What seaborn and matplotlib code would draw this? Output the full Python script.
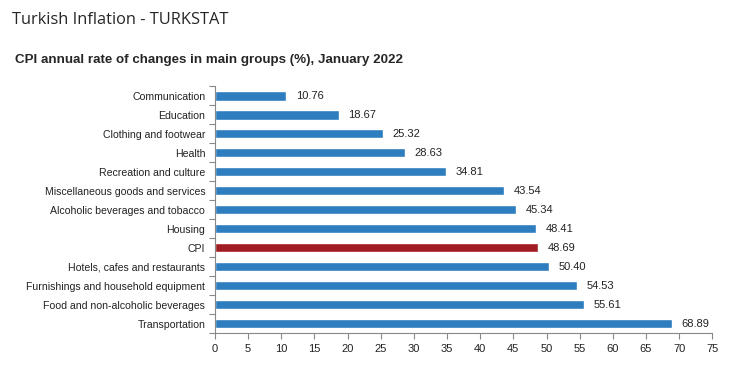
import numpy as np
import pandas as pd
import seaborn as sns
import matplotlib.pyplot as plt
from matplotlib.ticker import FixedLocator

categories = ["Communication", "Education", "Clothing and footwear", "Health",
              "Recreation and culture", "Miscellaneous goods and services",
              "Alcoholic beverages and tobacco", "Housing", "CPI",
              "Hotels, cafes and restaurants", "Furnishings and household equipment",
              "Food and non-alcoholic beverages", "Transportation"]
rates = [10.76, 18.67, 25.32, 28.63, 34.81, 43.54, 45.34, 48.41, 48.69,
         50.40, 54.53, 55.61, 68.89]

BLUE = "#2e7dbf"
RED = "#a11d21"

sns.set_style("white")
plt.rcParams["font.family"] = ["Liberation Sans", "DejaVu Sans"]

df = pd.DataFrame({"group": categories, "rate": rates})
colors = {c: (RED if c == "CPI" else BLUE) for c in categories}

fig = plt.figure(figsize=(7.49, 3.71), dpi=100)
ax = fig.add_axes([0.287, 0.1024, 0.664, 0.665])

sns.barplot(data=df, x="rate", y="group", hue="group", palette=colors,
            legend=False, width=0.5, saturation=1, ax=ax)

for cont in ax.containers:
    ax.bar_label(cont, fmt="%.2f", padding=7, fontsize=8, color="#222222")

ax.set_xlim(0, 75)
ax.set_xticks(np.arange(0, 76, 5))
ax.set_ylim(len(categories) - 0.5, -0.5)
ax.set_xlabel("")
ax.set_ylabel("")

for s in ["top", "right"]:
    ax.spines[s].set_visible(False)
for s in ["left", "bottom"]:
    ax.spines[s].set_color("#888888")
    ax.spines[s].set_linewidth(0.8)

ax.tick_params(axis="y", which="major", left=False, length=0, pad=7,
               labelsize=7.6, labelcolor="#222222")
ax.yaxis.set_minor_locator(FixedLocator(np.arange(-0.5, len(categories), 1)))
ax.tick_params(axis="y", which="minor", left=True, length=4, color="#888888", width=0.8)
ax.tick_params(axis="x", bottom=True, length=4, color="#888888", width=0.8,
               labelsize=8, labelcolor="#222222", pad=4)

fig.text(0.016, 0.945, "Turkish Inflation - TURKSTAT", fontsize=11.8,
         family=["Open Sans", "DejaVu Sans"], va="center")
fig.text(0.02, 0.838, "CPI annual rate of changes in main groups (%), January 2022",
         fontsize=9.6, fontweight="bold", va="center")

fig.savefig("out.png", dpi=100)
